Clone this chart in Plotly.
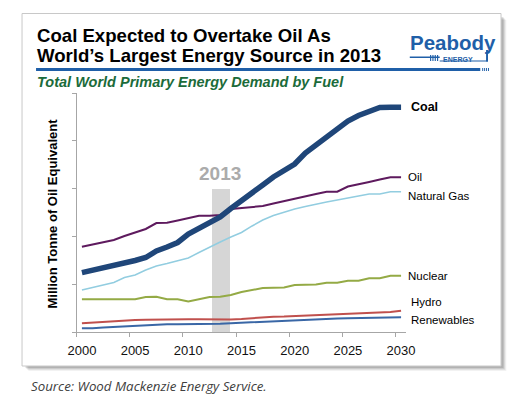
import plotly.graph_objects as go

W, H = 525, 398

years = list(range(2000, 2031))

coal = [1241, 1287, 1339, 1391, 1443, 1496, 1559, 1695, 1778, 1872, 2050, 2176, 2291, 2406, 2584, 2741,
        2887, 3075, 3243, 3368, 3515, 3745, 3912, 4100, 4268, 4414, 4529, 4613, 4697, 4701, 4701]
oil = [1784, 1831, 1872, 1925, 2008, 2082, 2155, 2280, 2287, 2333, 2385, 2433, 2433, 2448, 2573, 2594,
       2625, 2636, 2688, 2741, 2782, 2835, 2887, 2935, 2935, 3044, 3086, 3138, 3190, 3236, 3236]
natural_gas = [879, 931, 983, 1036, 1140, 1192, 1297, 1381, 1433, 1485, 1548, 1663, 1778, 1883, 1987, 2082,
               2218, 2343, 2437, 2510, 2573, 2625, 2678, 2720, 2761, 2797, 2845, 2887, 2887, 2935, 2935]
nuclear = [684, 684, 684, 684, 684, 684, 732, 738, 684, 684, 638, 690, 732, 738, 774, 837,
           879, 920, 927, 931, 983, 983, 994, 1031, 1031, 1073, 1073, 1123, 1123, 1178, 1178]
hydro = [182, 199, 215, 220, 234, 251, 257, 262, 266, 266, 266, 266, 266, 251, 262, 272,
         293, 314, 320, 324, 335, 345, 351, 360, 368, 377, 387, 397, 408, 418, 446]
renewables = [77, 77, 94, 105, 126, 126, 136, 157, 161, 161, 161, 161, 161, 172, 184, 195,
              199, 209, 220, 230, 241, 251, 262, 272, 280, 287, 293, 299, 305, 308, 308]

series_names = ["Renewables", "Hydro", "Nuclear", "Natural Gas", "Oil", "Coal"]
series_values = [renewables, hydro, nuclear, natural_gas, oil, coal]
series_colors = ["#3a67a6", "#c0504d", "#94aa45", "#92cde0", "#5e1a5e", "#1f4679"]
series_widths = [2, 2, 2, 1.5, 2, 5.5]

highlight_year = [2013]
highlight_value = [3000]

x_label_years = [2000, 2005, 2010, 2015, 2020, 2025, 2030]
x_tick_marks = [1999.5, 2004.5, 2009.5, 2014.5, 2019.5, 2024.5, 2029.5]
y_ticks = [0, 1000, 2000, 3000, 4000, 5000]

FONT = "Liberation Sans, Arial, sans-serif"
LOGO_BLUE = "#1f5fa8"


def px(x):
    return x / W


def py(y):
    return 1 - y / H


fig = go.Figure()

fig.add_trace(go.Bar(x=highlight_year, y=highlight_value, width=1.7,
                     marker=dict(color="#d6d6d6", line=dict(width=0)),
                     hoverinfo="skip", xaxis="x", yaxis="y"))

for name, vals, col, wd in zip(series_names, series_values, series_colors, series_widths):
    fig.add_trace(go.Scatter(x=years, y=vals, mode="lines", name=name,
                             line=dict(color=col, width=wd), xaxis="x", yaxis="y"))

# invisible trace to carry second x-axis labels
fig.add_trace(go.Scatter(x=[years[0], years[-1]], y=[None, None], mode="lines",
                         xaxis="x2", yaxis="y", showlegend=False, hoverinfo="skip"))

shapes = []
# card shadow
for i, a in enumerate([0.05, 0.07, 0.09, 0.12]):
    off = 5 - i
    shapes.append(dict(type="rect", xref="paper", yref="paper",
                       x0=px(14 + off + 1), x1=px(510 + off), y0=py(14 + off + 1), y1=py(366 + off),
                       fillcolor=f"rgba(0,0,0,{a})", line=dict(width=0), layer="below"))
shapes.append(dict(type="rect", xref="paper", yref="paper",
                   x0=px(13.5), x1=px(509.5), y0=py(13.5), y1=py(366),
                   fillcolor="white", line=dict(color="#c8c8c8", width=1), layer="below"))
# blue rule under title
shapes.append(dict(type="rect", xref="paper", yref="paper",
                   x0=px(28), x1=px(488), y0=py(68), y1=py(71),
                   fillcolor=LOGO_BLUE, line=dict(width=0)))
for k in range(4):
    shapes.append(dict(type="rect", xref="paper", yref="paper",
                       x0=px(490 + k * 2), x1=px(491 + k * 2), y0=py(68), y1=py(71),
                       fillcolor=LOGO_BLUE, line=dict(width=0)))
# logo underline bracket
shapes.append(dict(type="rect", xref="paper", yref="paper",
                   x0=px(415), x1=px(446), y0=py(56.5), y1=py(58),
                   fillcolor=LOGO_BLUE, line=dict(width=0)))
for k in range(4):
    shapes.append(dict(type="rect", xref="paper", yref="paper",
                       x0=px(436 + k * 2.4), x1=px(437.2 + k * 2.4), y0=py(55), y1=py(61),
                       fillcolor=LOGO_BLUE, line=dict(width=0)))
shapes.append(dict(type="rect", xref="paper", yref="paper",
                   x0=px(494), x1=px(496), y0=py(50), y1=py(61.5),
                   fillcolor=LOGO_BLUE, line=dict(width=0)))
shapes.append(dict(type="rect", xref="paper", yref="paper",
                   x0=px(446), x1=px(496), y0=py(60.5), y1=py(61.5),
                   fillcolor=LOGO_BLUE, line=dict(width=0)))

annotations = []
annotations.append(dict(text="<b>Coal Expected to Overtake Oil As</b>", x=px(27), y=py(36),
                        xref="paper", yref="paper", xanchor="left", yanchor="middle", showarrow=False,
                        font=dict(family=FONT, size=18.6, color="#000000")))
annotations.append(dict(text="<b>World’s Largest Energy Source in 2013</b>", x=px(27), y=py(55.3),
                        xref="paper", yref="paper", xanchor="left", yanchor="middle", showarrow=False,
                        font=dict(family=FONT, size=18.6, color="#000000")))
annotations.append(dict(text="<b><i>Total World Primary Energy Demand by Fuel</i></b>", x=px(27), y=py(82),
                        xref="paper", yref="paper", xanchor="left", yanchor="middle", showarrow=False,
                        font=dict(family=FONT, size=14.5, color="#1b6b3a")))
annotations.append(dict(text="<b>Peabody</b>", x=px(413), y=py(42), xref="paper", yref="paper",
                        xanchor="left", yanchor="middle", showarrow=False,
                        font=dict(family=FONT, size=20.5, color=LOGO_BLUE)))
annotations.append(dict(text="<b>ENERGY</b>", x=px(447), y=py(59), xref="paper", yref="paper",
                        xanchor="left", yanchor="middle", showarrow=False,
                        font=dict(family=FONT, size=7, color=LOGO_BLUE)))
annotations.append(dict(text="<b>Million Tonne of Oil Equivalent</b>", x=px(45), y=py(213),
                        xref="paper", yref="paper", xanchor="center", yanchor="middle", showarrow=False,
                        textangle=-90, font=dict(family=FONT, size=13, color="#000000")))
annotations.append(dict(text="<b>2013</b>", x=highlight_year[0], y=highlight_value[0], xref="x", yref="y",
                        xanchor="center", yanchor="bottom", yshift=3, showarrow=False,
                        font=dict(family=FONT, size=19, color="#ababab")))
annotations.append(dict(text="<i>Source: Wood Mackenzie Energy Service.</i>", x=px(21), y=py(386),
                        xref="paper", yref="paper", xanchor="left", yanchor="middle", showarrow=False,
                        font=dict(family="Open Sans, sans-serif", size=13.3, color="#404040")))

label_cfg = {
    "Coal": (8, 0, True),
    "Oil": (5, 0, False),
    "Natural Gas": (5, -4, False),
    "Nuclear": (5, 0, False),
    "Hydro": (8, 9, False),
    "Renewables": (8, -3, False),
}
for name, vals in zip(series_names, series_values):
    xs, ys, bold = label_cfg[name]
    txt = f"<b>{name}</b>" if bold else name
    annotations.append(dict(text=txt, x=years[-1], y=vals[-1], xref="x", yref="y",
                            xanchor="left", yanchor="middle", xshift=xs, yshift=ys, showarrow=False,
                            font=dict(family=FONT, size=12.5 if bold else 11.5, color="#000000")))

fig.update_layout(
    width=W, height=H, autosize=False,
    margin=dict(l=0, r=0, t=0, b=0, pad=0),
    paper_bgcolor="white", plot_bgcolor="rgba(0,0,0,0)",
    showlegend=False,
    shapes=shapes, annotations=annotations,
    xaxis=dict(domain=[px(70), px(411.5)], range=[1999.5, 2030.5], tickvals=x_tick_marks,
               showticklabels=False, ticks="outside", ticklen=4, tickcolor="#a6a6a6",
               showline=True, linecolor="#a6a6a6", linewidth=1, showgrid=False, zeroline=False,
               fixedrange=True),
    xaxis2=dict(domain=[px(70), px(411.5)], range=[1999.5, 2030.5], overlaying="x", anchor="y",
                side="bottom", tickvals=x_label_years, ticktext=[str(v) for v in x_label_years],
                ticks="outside", ticklen=6, tickcolor="rgba(0,0,0,0)",
                showline=False, showgrid=False, zeroline=False,
                tickfont=dict(family=FONT, size=13, color="#111111")),
    yaxis=dict(domain=[py(332), py(93)], range=[0, 5000], tickvals=y_ticks, showticklabels=False,
               ticks="outside", ticklen=4, tickcolor="#a6a6a6", showline=True, linecolor="#a6a6a6",
               linewidth=1, showgrid=False, zeroline=False),
    bargap=0,
)

post = ("document.documentElement.style.margin='0';document.documentElement.style.overflow='hidden';"
        "document.body.style.margin='0';document.body.style.padding='0';document.body.style.overflow='hidden';")

fig.write_html("out.html", config={"responsive": False, "displayModeBar": False}, post_script=post)
